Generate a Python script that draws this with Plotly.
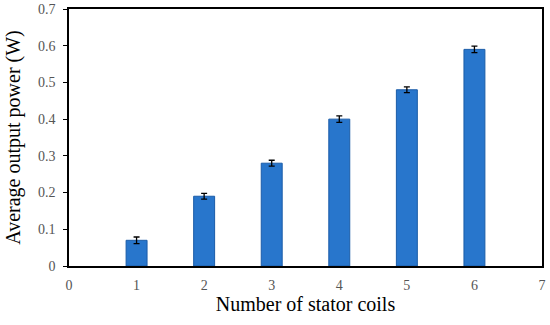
import plotly.graph_objects as go

coils = [1, 2, 3, 4, 5, 6]
power = [0.07, 0.19, 0.28, 0.40, 0.48, 0.59]
err = [0.009, 0.008, 0.008, 0.009, 0.008, 0.009]
x_ticks = [0, 1, 2, 3, 4, 5, 6, 7]
y_ticks = [0, 0.1, 0.2, 0.3, 0.4, 0.5, 0.6, 0.7]
y_labels = ["0", "0.1", "0.2", "0.3", "0.4", "0.5", "0.6", "0.7"]

fig = go.Figure()
fig.add_trace(go.Bar(
    x=coils, y=power, width=0.31,
    marker=dict(color="#2876CC", line=dict(color="#1A5CA8", width=1)),
    error_y=dict(type="data", array=err, visible=True, color="black", thickness=1.3, width=3),
))

font_family = "Liberation Serif, Times New Roman, serif"
fig.update_layout(
    width=550, height=325,
    margin=dict(l=69, r=8, t=9, b=59),
    paper_bgcolor="white", plot_bgcolor="white",
    showlegend=False,
    font=dict(family=font_family, color="#444"),
    xaxis=dict(range=[0, 7], tickmode="array", tickvals=x_ticks, automargin=False,
               showgrid=False, zeroline=False, showline=True, linecolor="black", linewidth=1.5,
               mirror=True, ticks="", ticklabelstandoff=5,
               tickfont=dict(size=14, color="#555", family=font_family),
               title=dict(text="Number of stator coils", font=dict(size=20, color="black", family=font_family), standoff=4)),
    yaxis=dict(range=[0, 0.7], tickmode="array", tickvals=y_ticks, ticktext=y_labels, automargin=False,
               showgrid=False, zeroline=False, showline=True, linecolor="black", linewidth=1.5,
               mirror=True, ticks="outside", ticklen=4, tickcolor="black", ticklabelstandoff=5,
               tickfont=dict(size=14, color="#555", family=font_family),
               title=dict(text="Average output power (W)", font=dict(size=20, color="black", family=font_family), standoff=12)),
)
fig.write_html("out.html", config={"displayModeBar": False},
               post_script="document.body.style.margin='0';")
